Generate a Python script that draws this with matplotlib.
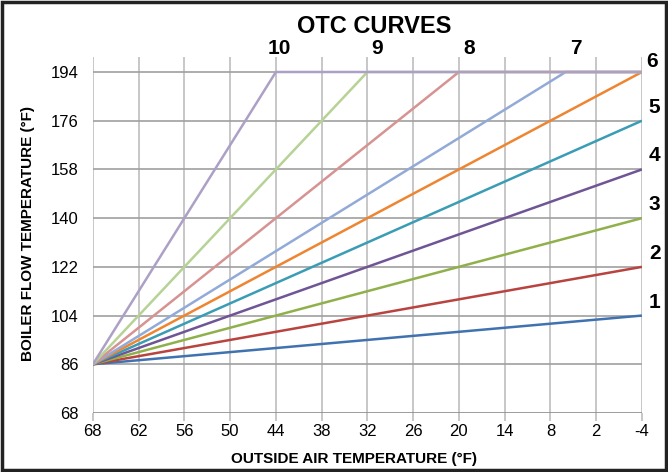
import matplotlib.pyplot as plt
from matplotlib.patches import Rectangle

# curve number, end point (outside air temp, boiler flow temp)
curve_ids = [1, 2, 3, 4, 5, 6, 7, 8, 9, 10]
start_x, start_y = 68, 86
knee_x = [-4, -4, -4, -4, -4, -4, 6, 20, 32, 44]
knee_y = [104, 122, 140, 158, 176, 194, 194, 194, 194, 194]
end_x = -4

x_ticks = [68, 62, 56, 50, 44, 38, 32, 26, 20, 14, 8, 2, -4]
y_ticks = [68, 86, 104, 122, 140, 158, 176, 194]

colors = ["#4172B0", "#B8433F", "#8FB04A", "#6F5595", "#3A9CB5",
          "#EE8531", "#92AAD8", "#D69391", "#B6D395", "#ADA0C6"]

font = "Liberation Sans"

fig = plt.figure(figsize=(6.68, 4.72), dpi=100)
ax = fig.add_axes([0.139, 0.125, 0.822, 0.754])

for i, cid in enumerate(curve_ids):
    xs = [start_x, knee_x[i]]
    ys = [start_y, knee_y[i]]
    if knee_x[i] != end_x:
        xs.append(end_x)
        ys.append(knee_y[i])
    ax.plot(xs, ys, color=colors[i], lw=1.8, solid_capstyle="butt", zorder=3 + i)

ax.set_xlim(68, -4)
ax.set_ylim(68, 199.5)
ax.set_xticks(x_ticks)
ax.set_yticks(y_ticks)
ax.set_xticklabels([str(v) for v in x_ticks], family=font, fontsize=12)
ax.set_yticklabels([str(v) for v in y_ticks], family=font, fontsize=12)

for v in x_ticks:
    ax.axvline(v, color="#BDBDBD", lw=1.2, zorder=1)
for v in y_ticks[1:]:
    ax.axhline(v, color="#A0A0A0", lw=1.2, zorder=1)
ax.axhline(68, color="#8C8C8C", lw=1.2, zorder=2)

for s in ax.spines.values():
    s.set_visible(False)
ax.tick_params(axis="x", length=6, color="#BDBDBD", width=1.2, pad=2)
ax.tick_params(axis="y", length=0, pad=10)

# curve labels
for i, cid in enumerate(curve_ids):
    if cid <= 5:
        ax.text(-4.9, knee_y[i] + 5, str(cid), fontsize=15, fontweight="bold",
                family=font, ha="left", va="center", clip_on=False)
    elif cid == 6:
        ax.text(-4.6, 198, "6", fontsize=15, fontweight="bold",
                family=font, ha="left", va="center", clip_on=False)
    else:
        ax.text(knee_x[i] - 0.5 if cid == 10 else knee_x[i] - 1.3, 202.5, str(cid),
                fontsize=15, fontweight="bold", family=font,
                ha="center", va="center", clip_on=False)

fig.text(0.56, 0.943, "OTC CURVES", ha="center", va="center", fontsize=17,
         fontweight="bold", family=font)
fig.text(0.53, 0.027, "OUTSIDE AIR TEMPERATURE (°F)", ha="center", va="center",
         fontsize=11, fontweight="bold", family=font)
fig.text(0.042, 0.505, "BOILER FLOW TEMPERATURE (°F)", ha="center", va="center",
         rotation=90, fontsize=11, fontweight="bold", family=font)

fig.patches.append(Rectangle((0.003, 0.004), 0.994, 0.992, transform=fig.transFigure,
                             fill=False, edgecolor="#222222", lw=2.5))

fig.savefig("out.png", dpi=100)
